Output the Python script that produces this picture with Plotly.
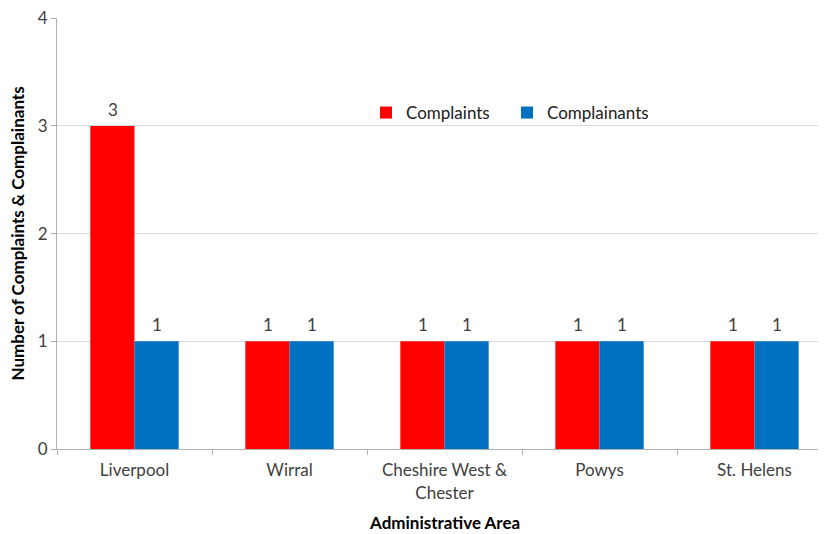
import plotly.graph_objects as go

categories = ["Liverpool", "Wirral", "Cheshire West &<br>Chester", "Powys", "St. Helens"]
complaints = [3, 1, 1, 1, 1]
complainants = [1, 1, 1, 1, 1]

FONT = "Lato"
TXT = "#404040"

fig = go.Figure()
fig.add_trace(go.Bar(x=categories, y=complaints, name="Complaints",
                     marker=dict(color="#ff0000", line=dict(width=0))))
fig.add_trace(go.Bar(x=categories, y=complainants, name="Complainants",
                     marker=dict(color="#0070c0", line=dict(width=0))))

# data labels above each bar (offset by half a bar width within the group)
for cat, v1, v2 in zip(categories, complaints, complainants):
    for val, dx in ((v1, -22), (v2, 22)):
        fig.add_annotation(x=cat, y=val, text=str(val), xshift=dx, yshift=4,
                           xanchor="center", yanchor="bottom", showarrow=False,
                           font=dict(family=FONT, size=17, color=TXT))

PLOT_H = 449 - 18
fig.update_layout(
    width=826, height=534,
    margin=dict(l=49, r=2, t=10, b=93),
    paper_bgcolor="white", plot_bgcolor="white",
    barmode="group", bargap=0.43, bargroupgap=0,
    font=dict(family=FONT, size=17, color=TXT),
    showlegend=True,
    legend=dict(orientation="h", x=(366 - 57) / 775, y=(449 - 113) / PLOT_H,
                xanchor="left", yanchor="middle",
                font=dict(family=FONT, size=17, color="#202020"),
                bgcolor="rgba(0,0,0,0)", itemwidth=30, entrywidth=96,
                traceorder="normal"),
    xaxis=dict(range=[-0.5, 4.5], showgrid=False, showline=True, linecolor="#b0b0b0",
               linewidth=1, ticks="outside", ticklen=5, tickcolor="#b0b0b0",
               tickson="boundaries", ticklabelstandoff=6, automargin=False,
               tickfont=dict(family=FONT, size=17, color=TXT)),
    yaxis=dict(range=[0, 4.002], dtick=1, showgrid=True, gridcolor="#d9d9d9", gridwidth=1,
               showline=True, linecolor="#b0b0b0", linewidth=1, ticks="outside",
               ticklen=5, tickcolor="#b0b0b0", zeroline=False, automargin=False,
               ticklabeloverflow="allow",
               tickfont=dict(family=FONT, size=17, color=TXT)),
)

fig.add_annotation(text="<b>Administrative Area</b>", xref="paper", yref="paper",
                   x=0.5, y=(449 - 522) / PLOT_H, xanchor="center", yanchor="middle",
                   showarrow=False, font=dict(family=FONT, size=17, color="#000000"))
fig.add_annotation(text="<b>Number of Complaints & Complainants</b>", xref="paper", yref="paper",
                   x=(17 - 57) / 775, y=0.5, xanchor="center", yanchor="middle", textangle=-90,
                   showarrow=False, font=dict(family=FONT, size=17, color="#000000"))

fig.write_html("out.html")
